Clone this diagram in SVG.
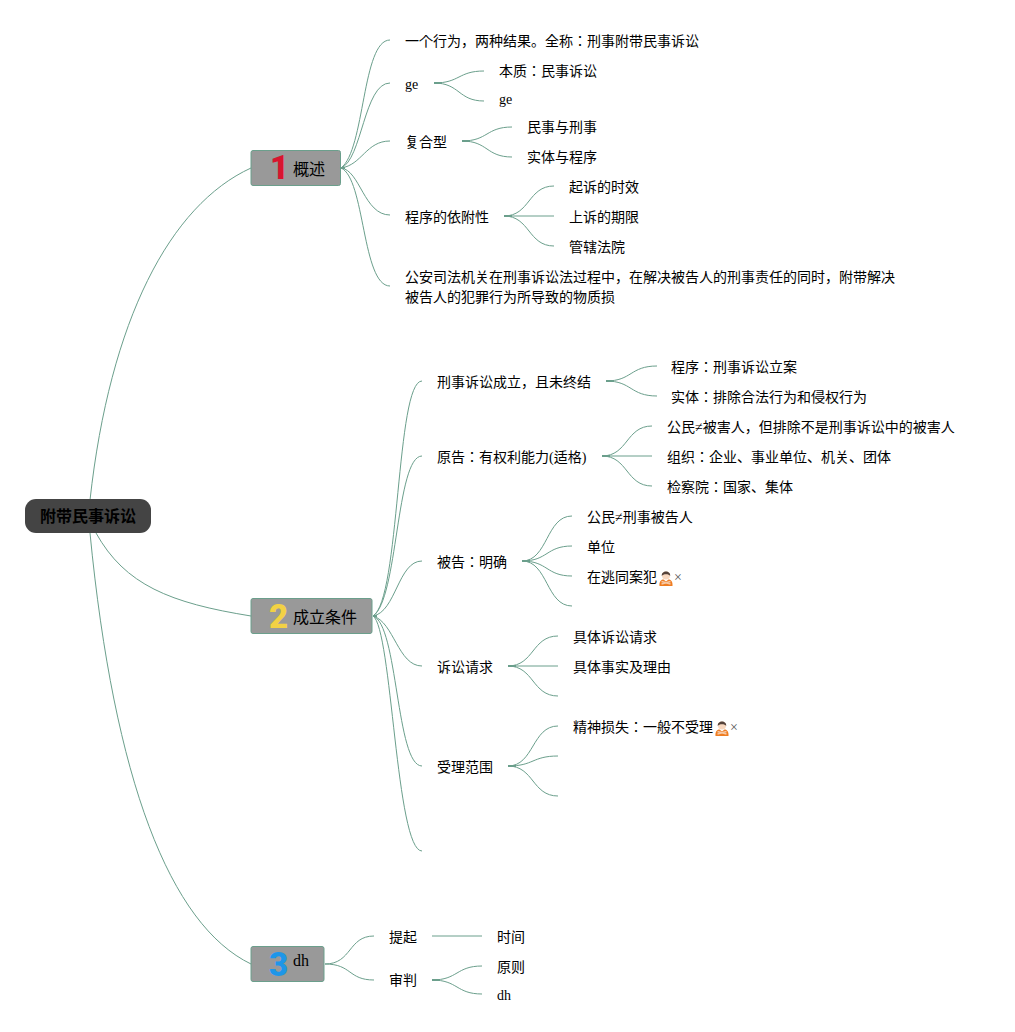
<svg xmlns="http://www.w3.org/2000/svg" width="1015" height="1032" viewBox="0 0 1015 1032">
<defs><style>
text{font-family:"Liberation Serif","Noto Sans CJK JP",sans-serif;font-size:14px;fill:#000}
.c{fill:none;stroke:#6b9f8c;stroke-width:1}
.s{fill:none;stroke:#6b9f8c;stroke-width:2}
.b{fill:#999;stroke:#6b9f8c;stroke-width:1}
.l{font-size:16px}
.n{font-family:Roboto,"Liberation Sans",sans-serif;font-size:33px;font-weight:900}
.x{fill:#555}
</style>
<g id="emoji"><path d="M1 16C0.500 11 3 9.500 5 9.500L7.500 11.500L10 9.500C12 9.500 14.500 11 14 16Z" fill="#ef7d22"/><path d="M3 11.500L12 14M12 11.500L3 14" stroke="#f6c9a6" stroke-width="1.300"/><circle cx="7.500" cy="5.500" r="4" fill="#f8d8c0"/><path d="M3.300 6C2.500 0 12.500 0 11.700 6C10.500 3.500 4.500 3.500 3.300 6Z" fill="#54423a"/></g>
</defs>
<rect width="1015" height="1032" fill="#fff"/>
<g id="connectors">
<path class="c" d="M251 168C170 205 110 320 90 500"/>
<path class="c" d="M251 616C170 603 125 585 96 533"/>
<path class="c" d="M251 964C170 925 114 780 90 533"/>
<path class="c" d="M341 168C365 150 362 40 390 40"/>
<path class="c" d="M341 168C362 160 364 83 390 83"/>
<path class="c" d="M341 168C362 165 366 141 390 141"/>
<path class="c" d="M341 168C360 170 364 215 390 215"/>
<path class="c" d="M341 168C365 178 362 286 390 286"/>
<path class="c" d="M434 83C460 83 458 71 484 71"/><path class="c" d="M434 83C460 83 458 101 484 101"/>
<path class="c" d="M462 141C488 141 486 127 512 127"/><path class="c" d="M462 141C488 141 486 157 512 157"/>
<path class="c" d="M504 216C530 216 528 186 554 186"/><path class="c" d="M504 216H554"/><path class="c" d="M504 216C530 216 528 246 554 246"/>
<path class="c" d="M373 616C400 600 396 381 422 381"/>
<path class="c" d="M373 616C398 600 396 456 422 456"/>
<path class="c" d="M373 616C396 612 398 561 422 561"/>
<path class="c" d="M373 616C394 622 398 666 422 666"/>
<path class="c" d="M373 616C398 624 396 766 422 766"/>
<path class="c" d="M373 616C392 628 396 851 422 851"/>
<path class="c" d="M606 381C632 381 630 366 657 366"/><path class="c" d="M606 381C632 381 630 396 657 396"/>
<path class="c" d="M602 456C628 456 626 426 652 426"/><path class="c" d="M602 456H652"/><path class="c" d="M602 456C628 456 626 486 652 486"/>
<path class="c" d="M522 561C548 561 546 516 572 516"/><path class="c" d="M522 561C548 561 546 546 572 546"/><path class="c" d="M522 561C548 561 546 576 572 576"/><path class="c" d="M522 561C548 561 546 606 572 606"/>
<path class="c" d="M508 666C534 666 532 636 558 636"/><path class="c" d="M508 666H558"/><path class="c" d="M508 666C534 666 532 696 558 696"/>
<path class="c" d="M508 766C534 766 532 726 558 726"/><path class="c" d="M508 766C534 766 532 756 558 756"/><path class="c" d="M508 766C534 766 532 796 558 796"/>
<path class="c" d="M325 964C352 964 348 936 374 936"/><path class="c" d="M325 964C352 964 348 980 374 980"/>
<path class="c" d="M432 936H482"/>
<path class="c" d="M432 980C458 980 456 966 482 966"/><path class="c" d="M432 980C458 980 456 994 482 994"/>
<path class="s" d="M434 83H442M462 141H470M504 216H512M606 381H614M602 456H610M522 561H530M508 666H516M508 766H516M432 980H440M373 616H377M341 168H345"/>
</g>
<g id="root"><rect x="25" y="499" width="126" height="34" rx="11" fill="#444"/><text x="40" y="522" font-weight="bold" style="font-size:16px">附带民事诉讼</text></g>
<g id="n1"><rect class="b" x="251" y="150.500" width="89.500" height="35" rx="2"/><text class="n" x="270" y="179" style="fill:#d8152f">1</text><text class="l" x="293" y="175">概述</text></g>
<g id="n2"><rect class="b" x="251" y="598.500" width="121" height="35" rx="2"/><text class="n" x="269" y="628" style="fill:#f2d144">2</text><text class="l" x="293" y="623">成立条件</text></g>
<g id="n3"><rect class="b" x="251" y="946.500" width="73" height="35" rx="2"/><text class="n" x="269" y="976" style="fill:#1e96e8">3</text><text class="l" x="293" y="966">dh</text></g>
<g id="t1"><text x="405" y="46">一个行为，两种结果。全称：刑事附带民事诉讼</text></g>
<g id="t2"><text x="405" y="89">ge</text></g>
<g id="t3"><text x="499" y="76">本质：民事诉讼</text></g>
<g id="t4"><text x="499" y="104">ge</text></g>
<g id="t5"><text x="405" y="147">复合型</text></g>
<g id="t6"><text x="527" y="132">民事与刑事</text></g>
<g id="t7"><text x="527" y="162">实体与程序</text></g>
<g id="t8"><text x="405" y="222">程序的依附性</text></g>
<g id="t9"><text x="569" y="192">起诉的时效</text></g>
<g id="t10"><text x="569" y="222">上诉的期限</text></g>
<g id="t11"><text x="569" y="252">管辖法院</text></g>
<g id="t12"><text x="405" y="282">公安司法机关在刑事诉讼法过程中，在解决被告人的刑事责任的同时，附带解决</text><text x="405" y="302">被告人的犯罪行为所导致的物质损</text></g>
<g id="t13"><text x="437" y="387">刑事诉讼成立，且未终结</text></g>
<g id="t14"><text x="671" y="372">程序：刑事诉讼立案</text></g>
<g id="t15"><text x="671" y="402">实体：排除合法行为和侵权行为</text></g>
<g id="t16"><text x="437" y="462">原告：有权利能力(适格)</text></g>
<g id="t17"><text x="667" y="432">公民≠被害人，但排除不是刑事诉讼中的被害人</text></g>
<g id="t18"><text x="667" y="462">组织：企业、事业单位、机关、团体</text></g>
<g id="t19"><text x="667" y="492">检察院：国家、集体</text></g>
<g id="t20"><text x="437" y="567">被告：明确</text></g>
<g id="t21"><text x="587" y="522">公民≠刑事被告人</text></g>
<g id="t22"><text x="587" y="552">单位</text></g>
<g id="t23"><text x="587" y="582">在逃同案犯</text><use href="#emoji" x="658.500" y="570"/><text class="x" x="674" y="582">×</text></g>
<g id="t24"><text x="437" y="672">诉讼请求</text></g>
<g id="t25"><text x="573" y="642">具体诉讼请求</text></g>
<g id="t26"><text x="573" y="672">具体事实及理由</text></g>
<g id="t27"><text x="437" y="772">受理范围</text></g>
<g id="t28"><text x="573" y="732">精神损失：一般不受理</text><use href="#emoji" x="714.500" y="720"/><text class="x" x="730" y="732">×</text></g>
<g id="t29"><text x="389" y="942">提起</text></g>
<g id="t30"><text x="497" y="942">时间</text></g>
<g id="t31"><text x="389" y="985">审判</text></g>
<g id="t32"><text x="497" y="972">原则</text></g>
<g id="t33"><text x="497" y="1000">dh</text></g>
</svg>
